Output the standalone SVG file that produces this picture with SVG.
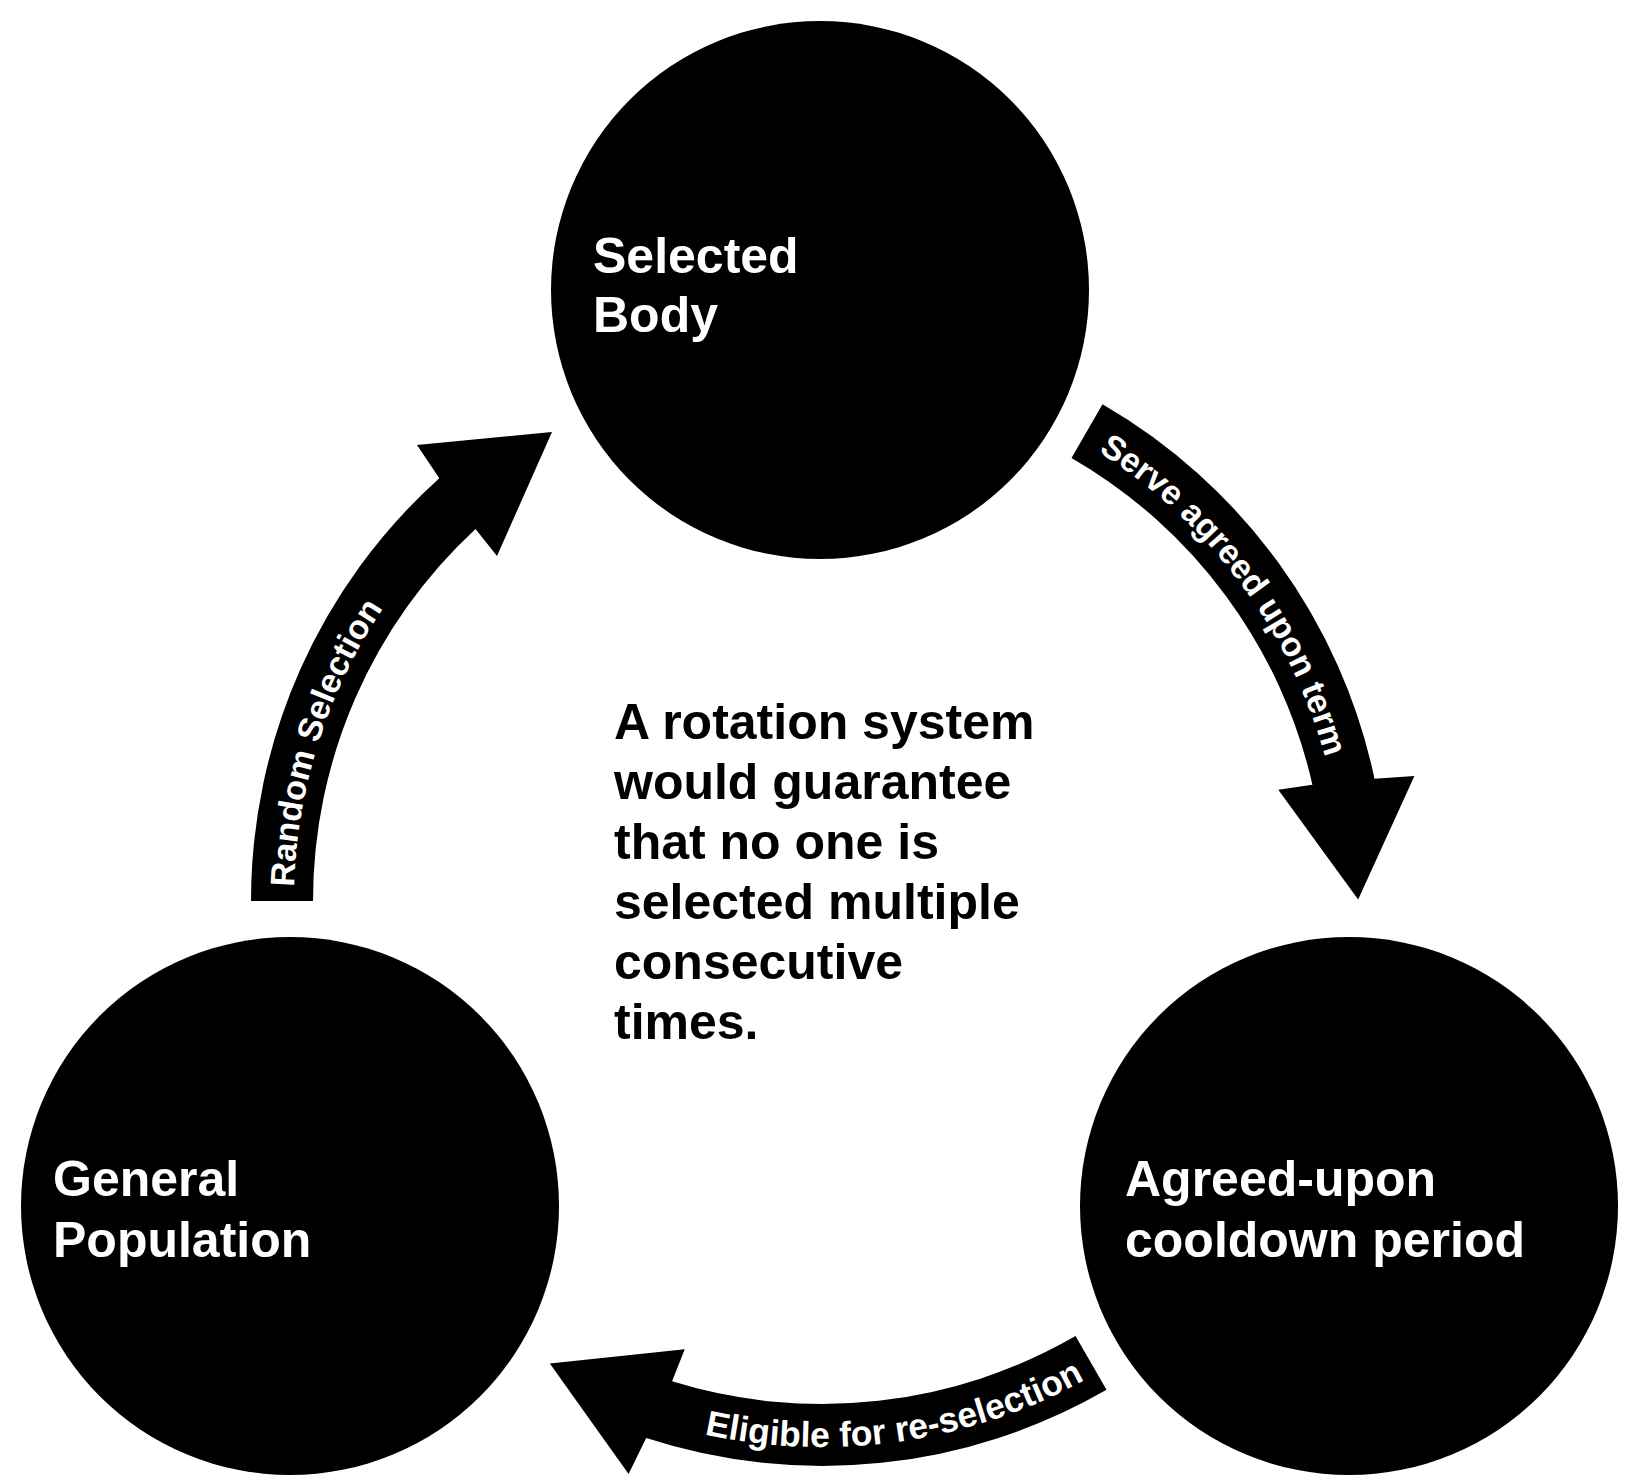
<svg xmlns="http://www.w3.org/2000/svg" width="1635" height="1481" viewBox="0 0 1635 1481">
<style>
.node { fill:#000; }
.lbl { font-family:"Liberation Sans", Arial, Helvetica, sans-serif; font-weight:bold; font-size:50px; fill:#fff; }
.note { font-family:"Liberation Sans", Arial, Helvetica, sans-serif; font-weight:bold; font-size:50px; fill:#000; }
.arrow { fill:#000; }
.alabel { font-family:"Liberation Sans", Arial, Helvetica, sans-serif; font-weight:bold; font-size:34px; fill:#fff; }
.alabel-lg { font-size:35.5px; }
</style>
<defs>
<path id="arrowShape" d="M -569 0 A 569 569 0 0 1 -380.7 -422.8 L -403 -456 L -268 -469 L -323 -345 L -344.5 -372 A 507 507 0 0 0 -507 0 Z"/>
<path id="tpIn" d="M -526 0 A 526 526 0 0 1 -351.96 -390.89" fill="none"/>
<path id="tpOut" d="M -368.02 -408.73 A 550 550 0 0 0 -550 0" fill="none"/>
</defs>
<rect width="1635" height="1481" fill="#fff"/>
<g id="connectors">
  <g id="edge-random-selection" transform="translate(820,901)">
    <use href="#arrowShape" class="arrow"/>
    <text class="alabel"><textPath href="#tpIn" startOffset="14">Random Selection</textPath></text>
  </g>
  <g id="edge-serve-term" transform="translate(818,897) rotate(120)">
    <use href="#arrowShape" class="arrow"/>
    <text class="alabel"><textPath href="#tpIn" startOffset="20">Serve agreed upon term</textPath></text>
  </g>
  <g id="edge-eligible" transform="translate(822,897) rotate(240)">
    <use href="#arrowShape" class="arrow"/>
    <text class="alabel alabel-lg" text-anchor="end"><textPath href="#tpOut" startOffset="447">Eligible for re-selection</textPath></text>
  </g>
</g>
<g id="node-selected-body">
  <circle class="node" cx="820" cy="290" r="269"/>
  <text class="lbl" x="593" y="273">Selected</text>
  <text class="lbl" x="593" y="332">Body</text>
</g>
<g id="node-general-population">
  <circle class="node" cx="290" cy="1206" r="269"/>
  <text class="lbl" x="53" y="1196">General</text>
  <text class="lbl" x="53" y="1257">Population</text>
</g>
<g id="node-cooldown">
  <circle class="node" cx="1349" cy="1206" r="269"/>
  <text class="lbl" x="1125" y="1196">Agreed-upon</text>
  <text class="lbl" x="1125" y="1257">cooldown period</text>
</g>
<g id="note">
  <text class="note" x="614" y="739">A rotation system</text>
  <text class="note" x="614" y="799">would guarantee</text>
  <text class="note" x="614" y="859">that no one is</text>
  <text class="note" x="614" y="919">selected multiple</text>
  <text class="note" x="614" y="979">consecutive</text>
  <text class="note" x="614" y="1039">times.</text>
</g>
</svg>
